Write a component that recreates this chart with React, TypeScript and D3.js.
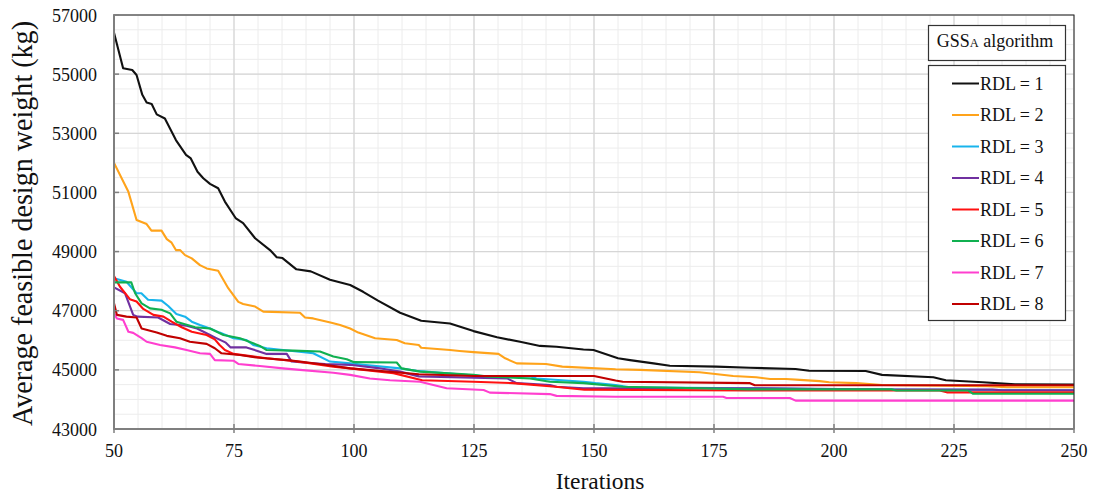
import React, { useEffect, useRef } from "react";
import * as d3 from "d3";

const xTicks = [50, 75, 100, 125, 150, 175, 200, 225, 250];
const yTicks = [43000, 45000, 47000, 49000, 51000, 53000, 55000, 57000];
const legendLabels = ["RDL = 1", "RDL = 2", "RDL = 3", "RDL = 4", "RDL = 5", "RDL = 6", "RDL = 7", "RDL = 8"];
const colors = ["#111111", "#FFA31A", "#18B4EC", "#7030A0", "#FF1010", "#10B050", "#FF3FCF", "#C00000"];

const rdl1: [number, number][] = [
  [50, 56400], [51.9, 55200], [53.8, 55140], [54.7, 54970], [55.9, 54300], [56.8, 54040], [57.85, 53990],
  [58.9, 53640], [60.6, 53500], [62.9, 52770], [65, 52270], [66, 52150], [67.4, 51700], [68.6, 51480],
  [70, 51290], [71.7, 51140], [73.1, 50690], [75.4, 50120], [76.9, 49960], [79.4, 49450], [82.5, 49050],
  [83.9, 48810], [85.1, 48780], [88, 48400], [91, 48330], [95, 48050], [99.2, 47870], [101.9, 47640],
  [105, 47340], [109.6, 46930], [114, 46660], [120, 46570], [124.9, 46310], [129.8, 46100], [134.6, 45950],
  [138.75, 45810], [142.2, 45780], [147.8, 45690], [149.9, 45670], [155, 45390], [157.5, 45330],
  [162.4, 45220], [165.8, 45140], [175.5, 45110], [182.5, 45070], [192, 45030], [194.8, 44970],
  [206.6, 44960], [210, 44830], [220.7, 44750], [223.3, 44650], [231, 44580], [237.7, 44510], [250, 44500],
];
const rdl2: [number, number][] = [
  [50, 52000], [53, 51020], [54.7, 50070], [56.8, 49930], [57.8, 49710], [59.9, 49710], [61, 49420],
  [62, 49300], [62.9, 49050], [63.75, 49050], [64.8, 48880], [66.2, 48770], [67.9, 48540], [69.3, 48430],
  [71.7, 48350], [73.8, 47760], [75.9, 47300], [76.9, 47230], [79.4, 47140], [81.1, 46970], [88.75, 46930],
  [89.8, 46770], [91.5, 46740], [95.3, 46590], [97.1, 46520], [99.2, 46400], [100.9, 46260], [104.4, 46070],
  [108.9, 46010], [110.6, 45900], [113.5, 45840], [114, 45750], [120, 45670], [122, 45640], [124.9, 45600],
  [130.1, 45540], [131.5, 45390], [133.9, 45220], [140, 45200], [143.4, 45110], [154.5, 45020],
  [159.6, 45000], [172, 44920], [179, 44790], [183.8, 44750], [186.7, 44690], [190, 44690], [192.9, 44660],
  [197, 44620], [199, 44580], [204.7, 44550], [210, 44490], [232, 44450], [236, 44410], [250, 44410],
];
const rdl3: [number, number][] = [
  [50, 48100], [52.6, 47980], [54.7, 47590], [55.7, 47590], [57.1, 47370], [59.9, 47340], [61.3, 47160],
  [63, 46890], [64.8, 46800], [66.2, 46630], [67.9, 46520], [70, 46400], [72, 46260], [74.9, 46070],
  [77.6, 46010], [79, 45840], [81.8, 45730], [91.5, 45560], [95, 45280], [99.2, 45220], [101.9, 45170],
  [109.6, 45050], [113, 44970], [127, 44780], [136.7, 44780], [138, 44710], [147.8, 44600], [150.3, 44550],
  [154.5, 44490], [157.5, 44410], [182, 44380], [200, 44340], [250, 44310],
];
const rdl4: [number, number][] = [
  [50, 47790], [52.3, 47590], [54, 46860], [54.9, 46800], [59.2, 46770], [61.7, 46550], [65.1, 46490],
  [67.3, 46400], [70, 46180], [71, 46100], [73.3, 45920], [74.3, 45760], [77.6, 45760], [81.8, 45540],
  [86, 45540], [87, 45280], [90, 45240], [94, 45200], [99.2, 45170], [105, 45060], [109.6, 44940],
  [113.5, 44780], [131.9, 44710], [133.9, 44550], [140.8, 44490], [142.2, 44430], [147.8, 44380],
  [182, 44380], [212, 44330], [233, 44330], [235, 44310], [250, 44310],
];
const rdl5: [number, number][] = [
  [50, 48170], [51.25, 47810], [53.3, 47390], [54.7, 47310], [56.1, 47060], [58.2, 46860], [60.3, 46800],
  [62, 46630], [64.1, 46440], [66.2, 46290], [69.3, 46180], [71, 46030], [72, 45840], [73.1, 45670],
  [74.9, 45540], [81.8, 45390], [87.4, 45300], [95.7, 45110], [99.2, 45050], [108.2, 44890], [114.2, 44650],
  [124.9, 44600], [133, 44550], [142, 44430], [148, 44330], [182, 44300], [222, 44300], [223.5, 44240],
  [250, 44240],
];
const rdl6: [number, number][] = [
  [50, 47960], [53.6, 47960], [54.4, 47590], [55.75, 47250], [57.5, 47080], [59.9, 47030], [61.7, 46910],
  [63, 46630], [66.9, 46440], [70, 46400], [72.8, 46180], [76.25, 46070], [79, 45900], [80.4, 45810],
  [81.8, 45670], [87.4, 45650], [92.9, 45620], [95.7, 45450], [98.5, 45360], [100, 45260], [108.9, 45250],
  [109.9, 45050], [113.75, 44940], [124.9, 44830], [127.5, 44780], [136.7, 44710], [140.8, 44600],
  [147.8, 44550], [156, 44430], [172, 44380], [182, 44340], [212, 44340], [213, 44300], [228, 44300],
  [229, 44190], [250, 44190],
];
const rdl7: [number, number][] = [
  [50, 46910], [50.6, 46740], [51.9, 46690], [53, 46290], [54, 46250], [55.75, 46070], [56.8, 45950],
  [59.6, 45840], [62.7, 45760], [65.1, 45670], [67.9, 45560], [70, 45540], [71, 45330], [74.9, 45310],
  [75.9, 45200], [80.4, 45130], [85.2, 45050], [88.75, 45000], [95.7, 44900], [99.2, 44830], [103.3, 44710],
  [107.5, 44650], [113.75, 44600], [119.3, 44380], [127, 44320], [128.3, 44230], [140.8, 44180],
  [142.2, 44120], [154.5, 44090], [176.9, 44090], [177.6, 44050], [190.8, 44050], [192, 43960], [250, 43960],
];
const rdl8: [number, number][] = [
  [50, 47250], [50.6, 46860], [52.6, 46800], [54.7, 46770], [55.75, 46400], [58.9, 46260], [61, 46150],
  [63.75, 46070], [65.8, 45950], [69.3, 45880], [71, 45730], [72.4, 45560], [76.25, 45500], [79.7, 45420],
  [86, 45330], [88.75, 45280], [94, 45170], [99.2, 45050], [113.5, 44850], [125, 44790], [150, 44790],
  [154.5, 44640], [156, 44600], [182.5, 44550], [183.5, 44480], [250, 44480],
];
const series = [rdl1, rdl2, rdl3, rdl4, rdl5, rdl6, rdl7, rdl8];

const W = 1096, H = 499;
const M = { left: 114, right: 1074, top: 15, bottom: 429 };
const SERIF = "'Liberation Serif', 'Times New Roman', serif";

export default function App() {
  const ref = useRef<SVGSVGElement>(null);
  useEffect(() => {
    const svg = d3.select(ref.current);
    svg.selectAll("*").remove();
    const x = d3.scaleLinear().domain([50, 250]).range([M.left, M.right]);
    const y = d3.scaleLinear().domain([43000, 57000]).range([M.bottom, M.top]);

    svg.append("rect").attr("width", W).attr("height", H).attr("fill", "#fff");

    const g = svg.append("g");
    // minor grid
    g.selectAll(".mx").data(d3.range(50, 251, 5)).enter().append("line")
      .attr("x1", d => x(d)).attr("x2", d => x(d)).attr("y1", M.top).attr("y2", M.bottom)
      .attr("stroke", "#ececec").attr("stroke-width", 1);
    g.selectAll(".my").data(d3.range(43000, 57001, 500)).enter().append("line")
      .attr("y1", d => y(d)).attr("y2", d => y(d)).attr("x1", M.left).attr("x2", M.right)
      .attr("stroke", "#ececec").attr("stroke-width", 1);
    // major grid
    g.selectAll(".Mx").data(xTicks).enter().append("line")
      .attr("x1", d => x(d)).attr("x2", d => x(d)).attr("y1", M.top).attr("y2", M.bottom)
      .attr("stroke", "#d6d6d6").attr("stroke-width", 1.2);
    g.selectAll(".My").data(yTicks).enter().append("line")
      .attr("y1", d => y(d)).attr("y2", d => y(d)).attr("x1", M.left).attr("x2", M.right)
      .attr("stroke", "#d6d6d6").attr("stroke-width", 1.2);

    // lines
    const line = d3.line<[number, number]>().x(d => x(d[0])).y(d => y(d[1])).curve(d3.curveLinear);
    series.forEach((s, i) => {
      svg.append("path").datum(s).attr("d", line).attr("fill", "none")
        .attr("stroke", colors[i]).attr("stroke-width", 2.1).attr("stroke-linejoin", "round");
    });

    // frame
    svg.append("rect").attr("x", M.left).attr("y", M.top).attr("width", M.right - M.left)
      .attr("height", M.bottom - M.top).attr("fill", "none").attr("stroke", "#222").attr("stroke-width", 1);
    svg.append("line").attr("x1", M.left).attr("x2", M.left).attr("y1", M.top).attr("y2", M.bottom)
      .attr("stroke", "#7f7f7f").attr("stroke-width", 2);
    svg.append("line").attr("x1", M.left).attr("x2", M.right).attr("y1", M.bottom).attr("y2", M.bottom)
      .attr("stroke", "#7f7f7f").attr("stroke-width", 2);

    // ticks
    svg.selectAll(".tx").data(xTicks).enter().append("line")
      .attr("x1", d => x(d)).attr("x2", d => x(d)).attr("y1", M.bottom - 5).attr("y2", M.bottom + 4)
      .attr("stroke", "#7f7f7f").attr("stroke-width", 1.5);
    svg.selectAll(".ty").data(yTicks).enter().append("line")
      .attr("y1", d => y(d)).attr("y2", d => y(d)).attr("x1", M.left - 1).attr("x2", M.left + 5)
      .attr("stroke", "#7f7f7f").attr("stroke-width", 1.5);

    svg.selectAll(".lx").data(xTicks).enter().append("text")
      .attr("x", d => x(d)).attr("y", 457).attr("text-anchor", "middle")
      .attr("font-family", SERIF).attr("font-size", 18).attr("fill", "#111").text(d => String(d));
    svg.selectAll(".ly").data(yTicks).enter().append("text")
      .attr("x", 97).attr("y", d => y(d) + 6.5).attr("text-anchor", "end")
      .attr("font-family", SERIF).attr("font-size", 18).attr("fill", "#111").text(d => String(d));

    svg.append("text").attr("x", 600).attr("y", 489).attr("text-anchor", "middle")
      .attr("font-family", SERIF).attr("font-size", 23.5).attr("fill", "#111").text("Iterations");
    svg.append("text").attr("transform", `translate(32,${223.5}) rotate(-90)`)
      .attr("text-anchor", "middle").attr("font-family", SERIF).attr("font-size", 29).attr("fill", "#111")
      .attr("textLength", 405).attr("lengthAdjust", "spacingAndGlyphs")
      .text("Average feasible design weight (kg)");

    // legend title
    svg.append("rect").attr("x", 928.5).attr("y", 25.5).attr("width", 137).attr("height", 35)
      .attr("fill", "#fff").attr("stroke", "#333").attr("stroke-width", 1.2);
    const t = svg.append("text").attr("x", 995).attr("y", 47).attr("text-anchor", "middle")
      .attr("font-family", SERIF).attr("font-size", 18).attr("fill", "#111");
    t.append("tspan").text("GSS");
    t.append("tspan").attr("font-size", 12.5).text("A");
    t.append("tspan").text(" algorithm");

    // legend box
    svg.append("rect").attr("x", 928.5).attr("y", 65.5).attr("width", 137).attr("height", 255)
      .attr("fill", "#fff").attr("stroke", "#333").attr("stroke-width", 1.2);
    const ly = d3.scaleLinear().domain([0, 7]).range([83.5, 304]);
    legendLabels.forEach((lab, i) => {
      svg.append("line").attr("x1", 952).attr("x2", 979).attr("y1", ly(i)).attr("y2", ly(i))
        .attr("stroke", colors[i]).attr("stroke-width", 2);
      svg.append("text").attr("x", 980).attr("y", ly(i) + 6).attr("font-family", SERIF)
        .attr("font-size", 18).attr("fill", "#111").text(lab);
    });
  }, []);
  return <svg ref={ref} width={W} height={H} style={{ position: "absolute", left: 0, top: 0 }} />;
}
